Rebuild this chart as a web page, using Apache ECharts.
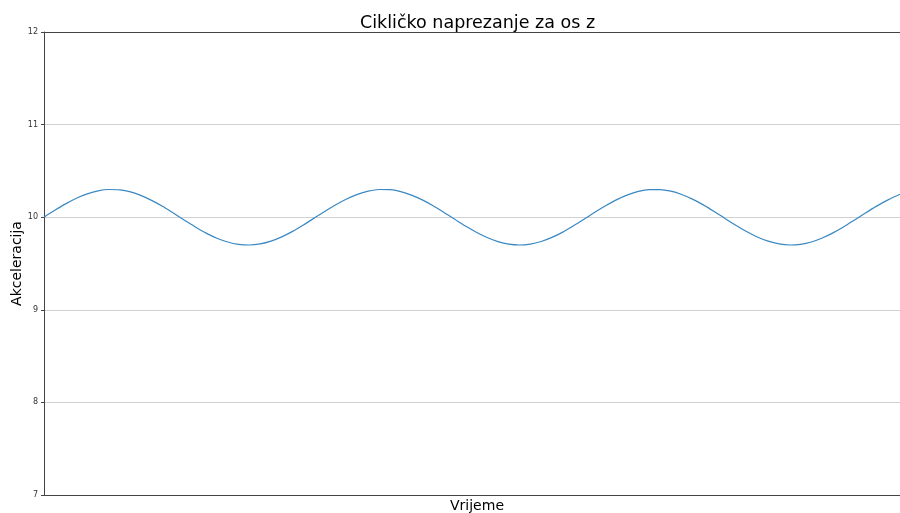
<!DOCTYPE html>
<html>
<head>
<meta charset="utf-8">
<script src="https://cdn.jsdelivr.net/npm/echarts@6/dist/echarts.min.js"></script>
<style>
html,body{margin:0;padding:0;background:#fff;}
#chart{width:900px;height:513px;}
</style>
</head>
<body>
<div id="chart"></div>
<script>
var titleText = "Cikličko naprezanje za os z";
var xLabel = "Vrijeme";
var yLabel = "Akceleracija";
var yTicks = [7, 8, 9, 10, 11, 12];
var timeValues = [0,0.25,0.5,0.75,1,1.25,1.5,1.75,2,2.25,2.5,2.75,3,3.25,3.5,3.75,4,4.25,4.5,4.75,5,5.25,5.5,5.75,6,6.25,6.5,6.75,7,7.25,7.5,7.75,8,8.25,8.5,8.75,9,9.25,9.5,9.75,10,10.25,10.5,10.75,11,11.25,11.5,11.75,12,12.25,12.5,12.75,13,13.25,13.5,13.75,14,14.25,14.5,14.75,15,15.25,15.5,15.75,16,16.25,16.5,16.75,17,17.25,17.5,17.75,18,18.25,18.5,18.75,19,19.25,19.5,19.75,20];
var accelValues = [10.000,10.074,10.144,10.205,10.252,10.285,10.299,10.295,10.273,10.233,10.179,10.115,10.042,9.968,9.895,9.828,9.773,9.732,9.707,9.700,9.712,9.742,9.788,9.847,9.916,9.990,10.065,10.135,10.197,10.247,10.281,10.299,10.297,10.277,10.239,10.187,10.124,10.052,9.978,9.904,9.837,9.780,9.736,9.709,9.700,9.710,9.738,9.782,9.839,9.907,9.980,10.055,10.126,10.190,10.241,10.278,10.297,10.298,10.281,10.245,10.195,10.133,10.062,9.987,9.914,9.845,9.786,9.741,9.712,9.700,9.707,9.732,9.775,9.831,9.897,9.970,10.045,10.117,10.182,10.237,10.274];
var xMax = 19.8;

var seriesData = timeValues.map(function(t, i){ return [t, accelValues[i]]; });
var chart = echarts.init(document.getElementById('chart'), null, {renderer:'canvas'});
var fontFam = "'DejaVu Sans', sans-serif";
chart.setOption({
  animation: false,
  backgroundColor: '#fff',
  title: {
    text: titleText, left: 355, top: 9,
    textStyle: {fontFamily: fontFam, fontSize: 17.5, fontWeight: 'normal', color: '#000'}
  },
  grid: {left: 44, right: 0, top: 32, bottom: 18, containLabel: false, outerBoundsMode: 'none'},
  xAxis: [{
    type: 'value', min: 0, max: xMax, position: 'bottom',
    name: xLabel, nameLocation: 'middle', nameGap: 4, nameMoveOverlap: false,
    nameTextStyle: {fontFamily: fontFam, fontSize: 14, color: '#000', padding: [0, 0, 0, 10]},
    axisLine: {show: true, lineStyle: {color: '#444', width: 1}},
    axisTick: {show: false}, axisLabel: {show: false}, splitLine: {show: false}
  },{
    type: 'value', min: 0, max: xMax, position: 'top',
    axisLine: {show: true, lineStyle: {color: '#444', width: 1}},
    axisTick: {show: false}, axisLabel: {show: false}, splitLine: {show: false}
  }],
  yAxis: {
    type: 'value', min: yTicks[0], max: yTicks[yTicks.length-1], interval: 1,
    name: yLabel, nameLocation: 'middle', nameGap: 20, nameMoveOverlap: false,
    nameTextStyle: {fontFamily: fontFam, fontSize: 14, color: '#000'},
    axisLine: {show: true, lineStyle: {color: '#444', width: 1}},
    axisTick: {show: true, length: 3, lineStyle: {color: '#444'}},
    axisLabel: {fontFamily: fontFam, fontSize: 8, color: '#333', margin: 6},
    splitLine: {show: true, lineStyle: {color: '#d0d0d0', width: 1}}
  },
  series: [{
    type: 'line', xAxisIndex: 0, data: seriesData, showSymbol: false, smooth: 0.3, clip: true,
    lineStyle: {color: '#3a88c2', width: 1.2}
  }]
});
</script>
</body>
</html>
